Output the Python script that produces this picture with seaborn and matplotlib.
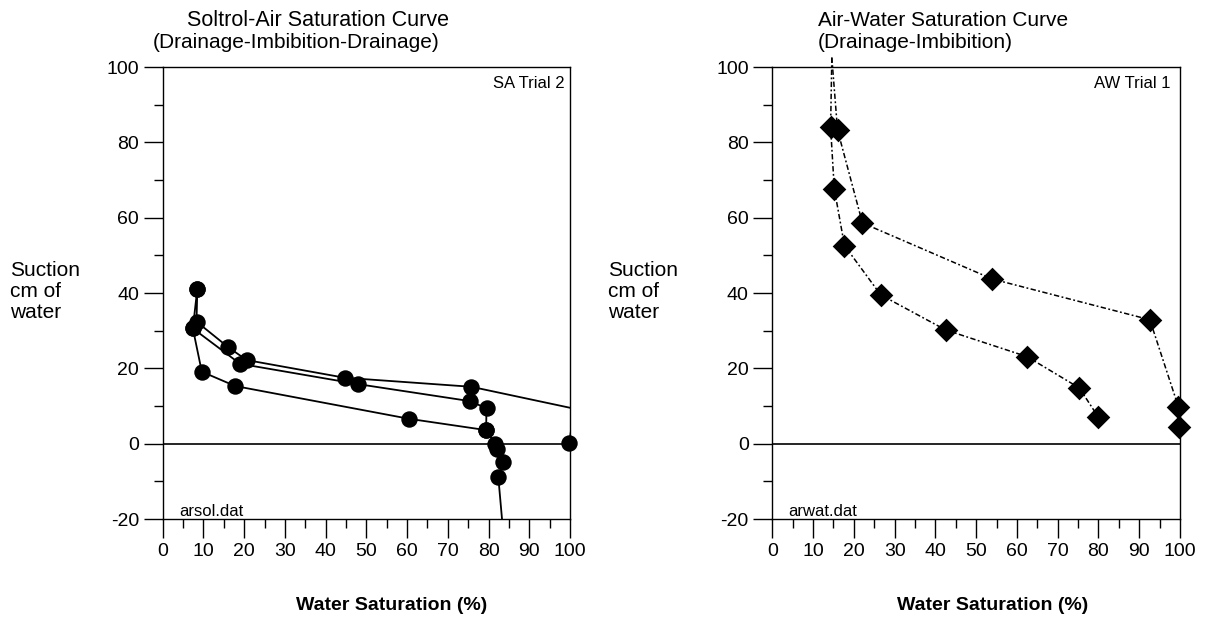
import matplotlib
matplotlib.use("Agg")
import matplotlib.pyplot as plt
import seaborn as sns
import pandas as pd

# ---------------- data ----------------
# Soltrol-Air (left): three branches (drainage, imbibition, drainage)
sa_drain1_sat = [99.8, 101.0, 75.8, 44.7, 20.6, 16.1, 8.3, 8.5]
sa_drain1_suc = [0.1, 9.3, 15.1, 17.5, 22.2, 25.6, 32.4, 41.1]
sa_imbib_sat = [8.5, 7.4, 9.6, 17.8, 60.5, 79.4, 81.6, 82.0, 83.6, 82.4, 83.8]
sa_imbib_suc = [41.1, 30.6, 19.1, 15.3, 6.6, 3.6, 0.0, -1.5, -5.0, -8.9, -26.0]
sa_drain2_sat = [79.4, 79.5, 75.4, 48.0, 19.0, 7.4]
sa_drain2_suc = [3.6, 9.4, 11.3, 15.8, 21.2, 30.6]

# Air-Water (right): drainage then imbibition
aw_drain_sat = [99.75, 99.6, 92.6, 54.0, 22.1, 16.0, 14.6]
aw_drain_suc = [4.5, 9.8, 32.9, 43.7, 58.6, 83.3, 102.5]
aw_imbib_sat = [14.6, 14.3, 15.2, 17.7, 26.6, 42.5, 62.5, 75.3, 80.0]
aw_imbib_suc = [102.5, 84.0, 67.7, 52.6, 39.5, 30.2, 23.1, 14.8, 7.0]

x_ticks = list(range(0, 101, 10))
y_ticks = list(range(-20, 101, 20))

sns.set_theme(style="white")
plt.rcParams["font.family"] = ["Liberation Sans", "DejaVu Sans"]
plt.rcParams["text.color"] = "black"
plt.rcParams["xtick.color"] = "black"
plt.rcParams["ytick.color"] = "black"
plt.rcParams["xtick.labelcolor"] = "black"
plt.rcParams["ytick.labelcolor"] = "black"

W, H = 1205, 617
fig = plt.figure(figsize=(W / 100, H / 100), dpi=100)


def fx(px):
    return px / W


def fy(py):
    return 1 - py / H


axL = fig.add_axes([fx(162.7), fy(519), fx(570 - 162.7), (519 - 67) / H])
axR = fig.add_axes([fx(772.3), fy(519), fx(1180 - 772.3), (519 - 67) / H])


def branch_df(sat, suc, name):
    return pd.DataFrame({"sat": sat, "suc": suc, "branch": name})


def style_axes(ax):
    ax.set_xlim(0, 100)
    ax.set_ylim(-20, 100)
    ax.set_xticks(x_ticks)
    ax.set_xticks(list(range(5, 100, 10)), minor=True)
    ax.set_yticks(y_ticks)
    ax.set_yticks(list(range(-10, 91, 20)), minor=True)
    ax.set_xticklabels([str(t) for t in x_ticks])
    ax.set_yticklabels([str(t) for t in y_ticks])
    ax.tick_params(axis="both", which="major", length=14, width=1.0,
                   direction="out", colors="black", labelsize=14,
                   labelcolor="black")
    ax.tick_params(axis="x", which="major", pad=3)
    ax.tick_params(axis="y", which="major", pad=3)
    ax.tick_params(axis="both", which="minor", length=6.5, width=1.0,
                   direction="out", colors="black")
    ax.tick_params(bottom=True, left=True, which="both")
    for s in ax.spines.values():
        s.set_visible(True)
        s.set_color("black")
        s.set_linewidth(1.0)
    ax.axhline(0, color="black", lw=1.2, zorder=1)
    ax.set_xlabel("")
    ax.set_ylabel("")
    ax.grid(False)


# ---- left plot ----
sa_df = pd.concat([
    branch_df(sa_drain1_sat, sa_drain1_suc, "d1"),
    branch_df(sa_imbib_sat, sa_imbib_suc, "im"),
    branch_df(sa_drain2_sat, sa_drain2_suc, "d2"),
], ignore_index=True)
sns.lineplot(data=sa_df, x="sat", y="suc", units="branch", estimator=None,
             sort=False, color="black", lw=1.3, ax=axL, legend=False)
sa_pts = sa_df[(sa_df.sat <= 100) & (sa_df.suc >= -20)]
sns.scatterplot(data=sa_pts, x="sat", y="suc", marker="o", s=140,
                color="black", edgecolor="black", linewidth=0, ax=axL,
                legend=False, clip_on=False, zorder=3)
style_axes(axL)

# ---- right plot ----
aw_df = pd.concat([
    branch_df(aw_drain_sat, aw_drain_suc, "dr"),
    branch_df(aw_imbib_sat, aw_imbib_suc, "im"),
], ignore_index=True)
for name, g in aw_df.groupby("branch"):
    sns.lineplot(data=g, x="sat", y="suc", estimator=None, sort=False,
                 color="black", lw=1.1, ax=axR, legend=False)
for line in axR.lines:
    line.set_linestyle((0, (3.5, 1.6, 1.2, 1.6)))
    line.set_clip_on(False)
aw_pts = aw_df[aw_df.suc <= 100]
sns.scatterplot(data=aw_pts, x="sat", y="suc", marker="D", s=145,
                color="black", edgecolor="black", linewidth=0, ax=axR,
                legend=False, clip_on=False, zorder=3)
style_axes(axR)

# ---- texts ----
fig.text(fx(187), fy(20), "Soltrol-Air Saturation Curve", fontsize=15.5,
         ha="left", va="center")
fig.text(fx(153), fy(43), "(Drainage-Imbibition-Drainage)", fontsize=15,
         ha="left", va="center")
fig.text(fx(818), fy(20), "Air-Water Saturation Curve", fontsize=15,
         ha="left", va="center")
fig.text(fx(818), fy(43), "(Drainage-Imbibition)", fontsize=15,
         ha="left", va="center")

for xl in (10, 608):
    fig.text(fx(xl), fy(261), "Suction\ncm of\nwater", fontsize=15,
             ha="left", va="top", linespacing=1.15)

fig.text(fx(392), fy(605), "Water Saturation (%)", fontsize=14,
         fontweight="bold", ha="center", va="center")
fig.text(fx(993), fy(605), "Water Saturation (%)", fontsize=14,
         fontweight="bold", ha="center", va="center")

fig.text(fx(565), fy(84), "SA Trial 2", fontsize=12, ha="right", va="center")
fig.text(fx(1170), fy(84), "AW Trial 1", fontsize=12, ha="right", va="center")
fig.text(fx(179), fy(512), "arsol.dat", fontsize=12, ha="left", va="center")
fig.text(fx(788), fy(511), "arwat.dat", fontsize=12, ha="left", va="center")

fig.savefig("out.png", dpi=100)
